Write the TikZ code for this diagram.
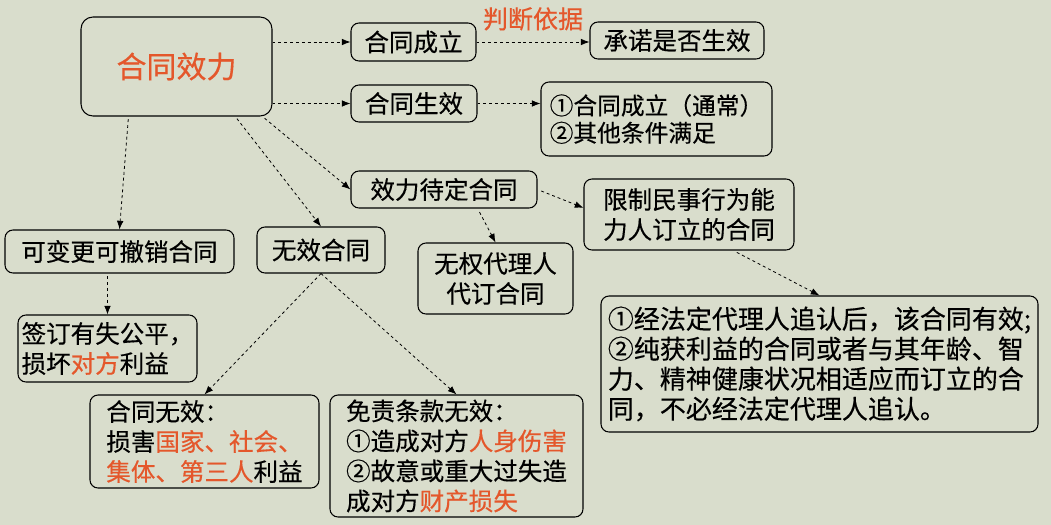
\documentclass[tikz,border=0pt]{standalone}
\usepackage{fontspec}
\setmainfont{Noto Sans CJK SC}[UprightFeatures={FakeBold=0.4}]
\usetikzlibrary{arrows.meta,calc}
\definecolor{bgcol}{RGB}{217,221,204}
\definecolor{hlcol}{RGB}{228,87,43}
\newcommand{\hl}[1]{\textcolor{hlcol}{#1}}
\begin{document}
\begin{tikzpicture}
[
    x=0.75pt, y=-0.75pt,
    box/.style={draw, rounded corners=6pt, line width=0.8pt, inner sep=0pt,
        font=\fontsize{18.4}{22.5}\selectfont, align=left},
    link/.style={-{Latex[length=6.5pt,width=5pt]}, line width=0.6pt,
        dash pattern=on 2.2pt off 2.2pt}
]
    \fill[bgcol] (0,0) rectangle (1051,525);
    \useasboundingbox (0,0) rectangle (1051,525);

    \node [box, rounded corners=9pt, minimum width=143.25pt, minimum height=74.25pt,
        font=\fontsize{22.5}{26}\selectfont, text=hlcol] (eff) at (176.5,66.5) {合同效力};
    \node [box, minimum width=93.75pt, minimum height=28.5pt] (cl) at (413.5,42) {合同成立};
    \node [box, minimum width=130.5pt, minimum height=27.75pt] (cn) at (677,40.5) {承诺是否生效};
    \node [box, minimum width=94.5pt, minimum height=27.75pt] (sx) at (414,103.5) {合同生效};
    \node [box, minimum width=173.25pt, minimum height=55.5pt,
        font=\fontsize{17.8}{20.5}\selectfont] (tj) at (656.5,119) {①合同成立（通常）\\②其他条件满足};
    \node [box, minimum width=139.5pt, minimum height=27.75pt] (dd) at (444,189.5) {效力待定合同};
    \node [box, minimum width=157.5pt, minimum height=53.25pt] (xz) at (689,214.5) {限制民事行为能\\力人订立的合同};
    \node [box, minimum width=327.75pt, minimum height=102pt,
        font=\fontsize{19.5}{22.5}\selectfont] (jf) at (819.5,364)
        {①经法定代理人追认后，该合同有效;\\②纯获利益的合同或者与其年龄、智\\力、精神健康状况相适应而订立的合\\同，不必经法定代理人追认。};
    \node [box, minimum width=116.25pt, minimum height=53.25pt, align=center] (wq) at (495.5,278.5) {无权代理人\\代订合同};
    \node [box, minimum width=96pt, minimum height=34.5pt] (wx) at (321,250) {无效合同};
    \node [box, minimum width=171.75pt, minimum height=32.25pt] (kb) at (119.5,251.5) {可变更可撤销合同};
    \node [box, minimum width=134.25pt, minimum height=50.25pt] (sd) at (107.5,348.5) {签订有失公平，\\损坏\hl{对方}利益};
    \node [box, minimum width=171.75pt, minimum height=69.75pt] (hw) at (204.5,441.5)
        {合同无效：\\损害\hl{国家、社会、}\\\hl{集体、第三人}利益};
    \node [box, minimum width=189.75pt, minimum height=91.5pt] (mz) at (456.5,456)
        {免责条款无效：\\①造成对方\hl{人身伤害}\\②故意或重大过失造\\成对方\hl{财产损失}};

    \draw [link] (eff.east |- cl.west) -- (cl.west);
    \draw [link] (cl.east) -- (cn.west |- cl.east)
        node [midway, above=5pt, text=hlcol, font=\fontsize{18.8}{22}\selectfont] (pd) {判断依据};
    \draw [link] (eff.east |- sx.west) -- (sx.west);
    \draw [link] (sx.east) -- (tj.west |- sx.east);
    \draw [link, shorten <=2pt] ($(eff.south west)!0.25!(eff.south east)$) -- (kb.north);
    \draw [link, shorten <=2pt] ($(eff.south west)!0.806!(eff.south east)$) -- (wx.north);
    \draw [link, shorten <=2pt] ($(eff.south west)!0.948!(eff.south east)$) -- (dd.west);
    \draw [link, shorten <=3pt] ($(dd.south west)!0.68!(dd.south east)$) -- (wq.north);
    \draw [link, shorten <=3pt] (dd.east) -- ([yshift=5pt]xz.west);
    \draw [link, shorten <=3pt] ($(xz.south west)!0.71!(xz.south east)$) -- (jf.north);
    \draw [link, shorten <=2pt] (sd.north |- kb.south) -- (sd.north);
    \draw [link] (wx.south) -- (hw.north);
    \draw [link] (wx.south) -- (mz.north);
\end{tikzpicture}
\end{document}
